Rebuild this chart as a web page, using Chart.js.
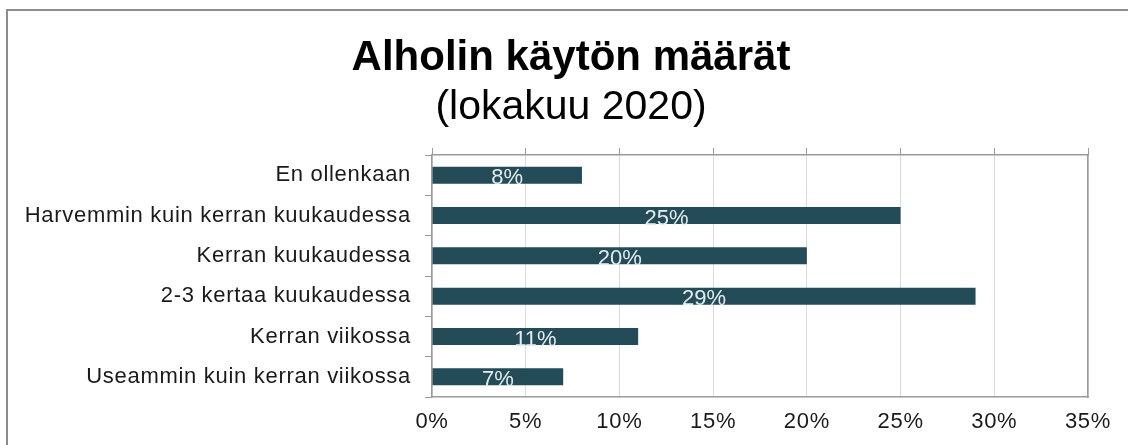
<!DOCTYPE html>
<html>
<head>
<meta charset="utf-8">
<script src="https://cdn.jsdelivr.net/npm/chart.js@4.4.1/dist/chart.umd.min.js"></script>
<style>
  html, body { margin: 0; padding: 0; background: #fff; }
  #wrap { position: relative; width: 1128px; height: 445px; overflow: hidden; }
  #frame { position: absolute; left: 6px; top: 9px; width: 1300px; height: 600px;
           border-top: 2px solid #8c8c8c; border-left: 2px solid #8c8c8c; pointer-events: none; }
  canvas { position: absolute; left: 0; top: 0; }
</style>
</head>
<body>
<div id="wrap">
  <canvas id="c" width="1128" height="445"></canvas>
  <div id="frame"></div>
</div>
<script>
const titleText = 'Alholin käytön määrät';
const subtitleText = '(lokakuu 2020)';
const categories = [
  'En ollenkaan',
  'Harvemmin kuin kerran kuukaudessa',
  'Kerran kuukaudessa',
  '2-3 kertaa kuukaudessa',
  'Kerran viikossa',
  'Useammin kuin kerran viikossa'
];
const shares = [8, 25, 20, 29, 11, 7];
const axisMin = 0;
const axisMax = 35;
const axisStep = 5;

const FONT = '"Liberation Sans", Arial, sans-serif';
const AXIS_GREY = '#9a9a9a';

const labelPlugin = {
  id: 'barLabels',
  afterDatasetsDraw(chart) {
    const ctx = chart.ctx;
    const meta = chart.getDatasetMeta(0);
    ctx.save();
    ctx.letterSpacing = '0px';
    ctx.font = '22px ' + FONT;
    ctx.fillStyle = '#e4ecef';
    ctx.textAlign = 'center';
    ctx.textBaseline = 'middle';
    meta.data.forEach((bar, i) => {
      const cx = (bar.x + bar.base) / 2;
      ctx.fillText(chart.data.datasets[0].data[i] + '%', cx, bar.y + 3);
    });
    ctx.restore();
    // letter spacing for the tick labels drawn in later layers
    ctx.letterSpacing = '0.7px';
  },
  afterDraw(chart) {
    chart.ctx.letterSpacing = '0px';
  }
};

new Chart(document.getElementById('c'), {
  type: 'bar',
  data: {
    labels: categories,
    datasets: [{
      data: shares,
      backgroundColor: '#234b58',
      borderWidth: 0,
      barPercentage: 0.42,
      categoryPercentage: 1.0,
      xAxisID: 'x',
      yAxisID: 'y'
    }]
  },
  options: {
    indexAxis: 'y',
    responsive: false,
    animation: false,
    layout: { padding: { left: 14, right: 0, top: 0, bottom: 0 } },
    plugins: {
      legend: { display: false },
      tooltip: { enabled: false },
      title: {
        display: true,
        text: titleText,
        color: '#000',
        font: { family: FONT, size: 42, weight: 'bold', lineHeight: 1.1 },
        padding: { top: 35, bottom: 0 }
      },
      subtitle: {
        display: true,
        text: subtitleText,
        color: '#000',
        font: { family: FONT, size: 41, weight: 'normal', lineHeight: 1.1 },
        padding: { top: 4, bottom: 0 }
      }
    },
    scales: {
      x: {
        type: 'linear',
        position: 'bottom',
        min: axisMin,
        max: axisMax,
        ticks: {
          stepSize: axisStep,
          color: '#1a1a1a',
          font: { family: FONT, size: 22 },
          padding: 12,
          z: 1,
          callback: v => v + '%'
        },
        grid: { color: '#dcdcdc', lineWidth: 1, drawTicks: false },
        border: { display: true, color: AXIS_GREY, width: 1.5 },
        afterFit: s => { s.height = 48; }
      },
      xTop: {
        type: 'linear',
        position: 'top',
        min: axisMin,
        max: axisMax,
        ticks: { stepSize: axisStep, display: false },
        grid: { display: true, drawOnChartArea: false, drawTicks: true, tickLength: 7, color: AXIS_GREY, lineWidth: 1 },
        border: { display: true, color: AXIS_GREY, width: 1.5 },
        afterFit: s => { s.height = 24.7; }
      },
      y: {
        type: 'category',
        position: 'left',
        ticks: {
          color: '#1a1a1a',
          font: { family: FONT, size: 22 },
          padding: 14,
          z: 1
        },
        grid: { display: true, offset: true, drawOnChartArea: false, drawTicks: true, tickLength: 7, color: AXIS_GREY, lineWidth: 1 },
        border: { display: true, color: AXIS_GREY, width: 1.5 },
        afterFit: s => { s.width = 418; }
      },
      yRight: {
        type: 'linear',
        position: 'right',
        min: 0,
        max: 1,
        ticks: { display: false },
        grid: { display: true, drawOnChartArea: false, drawTicks: false },
        border: { display: true, color: AXIS_GREY, width: 1.5 },
        afterFit: s => { s.width = 40; }
      }
    }
  },
  plugins: [labelPlugin]
});
</script>
</body>
</html>
